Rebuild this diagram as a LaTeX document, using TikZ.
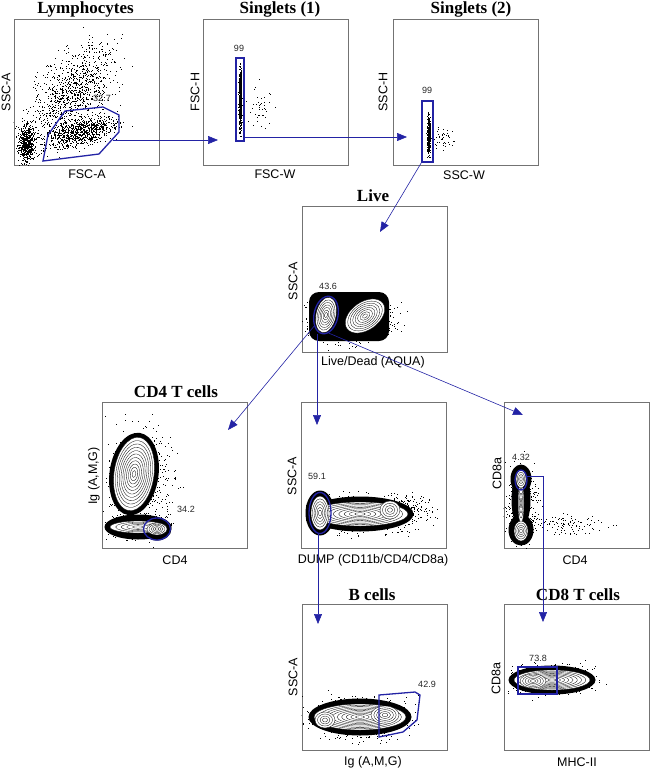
\documentclass[tikz,border=0pt]{standalone}
\usepackage{fontspec}
\setmainfont{Liberation Serif}
\newfontfamily\arialfont{Liberation Sans}
\usetikzlibrary{arrows.meta,shapes.geometric}

\definecolor{gateblue}{RGB}{35,35,165}
\definecolor{framegray}{RGB}{115,115,115}

\tikzset{
  plotframe/.style={draw=framegray, line width=0.8pt, minimum width=145pt, minimum height=146pt, inner sep=0pt},
  gateline/.style={draw=gateblue, line width=1.3pt},
  gatebox/.style={gateline, inner sep=0pt},
  gateoval/.style={gateline, ellipse, inner sep=0pt},
  gatearrow/.style={draw=gateblue, line width=0.6pt, -{Triangle[length=10pt,width=8pt]}},
  plottitle/.style={font=\fontsize{17}{20}\selectfont\bfseries, anchor=base},
  axislabel/.style={font=\arialfont\fontsize{12.5}{14}\selectfont},
  ylabel/.style={axislabel, rotate=90},
  gatepct/.style={font=\arialfont\fontsize{9}{10}\selectfont, text=black!85},
  contourline/.style={line width=0.3pt}
}

% cloud of events: centre, spread, tilt, count
\newcommand\scatterblob[6]{%
  \foreach \k in {1,...,#6}{%
    \pgfmathsetmacro\du{(rand+rand+rand)/3*#3}%
    \pgfmathsetmacro\dv{(rand+rand+rand)/3*#4}%
    \fill ({#1+\du*cos(#5)-\dv*sin(#5)},{#2-\du*sin(#5)-\dv*cos(#5)}) rectangle ++(0.8,0.8);
  }}

% dense rim of a population
\newcommand\densityedge[5]{%
  \fill[rotate around={#5:(#1,#2)}] (#1,#2) ellipse[x radius=#3*1pt+3.5pt, y radius=#4*1pt+3.5pt];}

% nested density levels
\newcommand\densitycore[6]{%
  \begin{scope}[rotate around={#5:(#1,#2)}]
    \filldraw[fill=white, contourline] (#1,#2) ellipse[x radius=#3*1pt, y radius=#4*1pt];
    \foreach \j in {1,...,#6}{%
      \draw[contourline] (#1,#2) ellipse[x radius={#3*\j/(#6+1)*1pt}, y radius={#4*\j/(#6+1)*1pt}];}
  \end{scope}}

\begin{document}
\begin{tikzpicture}[x=1pt, y=-1pt]
  \useasboundingbox (0,0) rectangle (650,768);
  \pgfmathsetseed{4711}

  \node[plotframe] (lymph) at (86.5,92) {};
  \node[plotframe] (sing1) at (275.5,92) {};
  \node[plotframe] (sing2) at (465.5,92) {};
  \node[plotframe] (live) at (374.5,279) {};
  \node[plotframe] (cd4t) at (175,475.5) {};
  \node[plotframe] (dump) at (373.5,475.5) {};
  \node[plotframe] (cd8a) at (576.5,475.5) {};
  \node[plotframe] (bcell) at (374.5,677) {};
  \node[plotframe] (cd8t) at (576.5,677) {};

  \begin{scope}
    \clip (lymph.south west) rectangle (lymph.north east);
    \scatterblob{72}{92}{85}{45}{55}{1000}
    \scatterblob{80}{132}{55}{18}{15}{800}
    \scatterblob{26}{144}{12}{28}{0}{550}
  \end{scope}
  \begin{scope}
    \clip (sing1.south west) rectangle (sing1.north east);
    \scatterblob{240}{100}{2}{44}{0}{600}
    \scatterblob{258}{105}{22}{32}{0}{45}
  \end{scope}
  \begin{scope}
    \clip (sing2.south west) rectangle (sing2.north east);
    \scatterblob{428.5}{135}{2.5}{26}{0}{450}
    \scatterblob{442}{138}{18}{15}{0}{45}
  \end{scope}
  \begin{scope}
    \clip (live.south west) rectangle (live.north east);
    \scatterblob{333}{320}{34}{28}{0}{350}
    \scatterblob{362}{320}{50}{27}{10}{500}
    \scatterblob{350}{325}{65}{30}{0}{110}
    \fill[rounded corners=10pt] (309,292) rectangle (389,341);
    \densitycore{365}{316}{22}{14}{35}{7}
    \densitycore{326}{315}{10}{18}{-12}{6}
  \end{scope}
  \begin{scope}
    \clip (cd4t.south west) rectangle (cd4t.north east);
    \scatterblob{140}{480}{48}{75}{0}{550}
    \scatterblob{140}{527}{45}{16}{0}{250}
    \densityedge{134}{474}{21}{38}{-8}
    \densityedge{138}{527}{30}{9}{0}
    \densityedge{157}{529}{11}{8}{0}
    \densitycore{134}{474}{20}{37}{-8}{10}
    \densitycore{138}{527}{28}{6}{0}{4}
    \densitycore{157}{529}{10}{6}{0}{4}
  \end{scope}
  \begin{scope}
    \clip (dump.south west) rectangle (dump.north east);
    \scatterblob{362}{515}{75}{28}{0}{550}
    \scatterblob{412}{508}{38}{20}{0}{130}
    \densityedge{360}{514}{50}{14}{0}
    \densityedge{320}{513}{11}{19}{0}
    \densitycore{360}{514}{48}{12}{0}{8}
    \densitycore{320}{513}{9}{17}{0}{5}
    \densitycore{390}{510}{10}{9}{0}{3}
  \end{scope}
  \begin{scope}
    \clip (cd8a.south west) rectangle (cd8a.north east);
    \scatterblob{521}{505}{22}{58}{0}{450}
    \scatterblob{562}{525}{65}{16}{0}{120}
    \densityedge{521}{500}{6}{24}{0}
    \densityedge{521}{530}{9}{12}{0}
    \densityedge{521}{479}{7}{11}{0}
    \densitycore{521}{503}{3}{20}{0}{3}
    \densitycore{521}{531}{7}{10}{0}{4}
    \densitycore{521}{479}{5}{9}{0}{3}
  \end{scope}
  \begin{scope}
    \clip (bcell.south west) rectangle (bcell.north east);
    \scatterblob{362}{717}{70}{30}{0}{600}
    \densityedge{360}{717}{48}{15}{0}
    \densitycore{360}{717}{46}{13}{0}{9}
    \densitycore{385}{715}{14}{9}{0}{4}
    \densitycore{325}{720}{10}{8}{0}{3}
  \end{scope}
  \begin{scope}
    \clip (cd8t.south west) rectangle (cd8t.north east);
    \scatterblob{550}{680}{60}{22}{0}{480}
    \densityedge{552}{680}{40}{11}{0}
    \densitycore{552}{680}{38}{10}{0}{8}
    \densitycore{533}{681}{13}{7}{0}{4}
  \end{scope}

  \node[plottitle] (tLymph) at (85.5,14) {Lymphocytes};
  \node[plottitle] (tSing1) at (280,14) {Singlets (1)};
  \node[plottitle] (tSing2) at (471,14) {Singlets (2)};
  \node[plottitle] (tLive) at (373,201) {Live};
  \node[plottitle] (tCD4) at (176,397) {CD4 T cells};
  \node[plottitle] (tB) at (372,600) {B cells};
  \node[plottitle] (tCD8) at (578,600) {CD8 T cells};

  \node[axislabel] (xLymph) at (87,174) {FSC-A};
  \node[ylabel] (yLymph) at (6,92) {SSC-A};
  \node[axislabel] (xSing1) at (275,174) {FSC-W};
  \node[ylabel] (ySing1) at (195,92) {FSC-H};
  \node[axislabel] (xSing2) at (464,175) {SSC-W};
  \node[ylabel] (ySing2) at (383,92) {SSC-H};
  \node[axislabel] (xLive) at (373,362) {Live/Dead (AQUA)};
  \node[ylabel] (yLive) at (293,281) {SSC-A};
  \node[axislabel] (xCD4) at (175,560) {CD4};
  \node[ylabel] (yCD4) at (94,476) {Ig (A,M,G)};
  \node[axislabel] (xDump) at (373,560) {DUMP (CD11b/CD4/CD8a)};
  \node[ylabel] (yDump) at (292,476) {SSC-A};
  \node[axislabel] (xCD8a) at (575,560) {CD4};
  \node[ylabel] (yCD8a) at (497,474) {CD8a};
  \node[axislabel] (xB) at (373,762) {Ig (A,M,G)};
  \node[ylabel] (yB) at (293,677) {SSC-A};
  \node[axislabel] (xCD8) at (577,762) {MHC-II};
  \node[ylabel] (yCD8) at (496,679) {CD8a};

  \draw[gateline] (43,161) -- (48,135) -- (65,111) -- (103,107) -- (119,115) -- (119,132) -- (99,154) -- cycle;
  \coordinate (lymG) at (113,140);
  \node[gatebox, minimum width=8pt, minimum height=83pt] (s1gate) at (240,99.5) {};
  \node[gatebox, minimum width=11pt, minimum height=61pt] (s2gate) at (427.5,131.5) {};
  \node[gateoval, minimum width=24pt, minimum height=38pt, rotate=-12] (livegate) at (326,315) {};
  \node[gateoval, minimum width=27pt, minimum height=22pt] (cd4gate) at (157,529) {};
  \node[gateoval, minimum width=22pt, minimum height=41pt] (dumpgate) at (320,513) {};
  \node[gateoval, minimum width=12pt, minimum height=20pt] (cd8gate) at (521,480) {};
  \draw[gateline] (379,695) -- (415,692) -- (420,695) -- (417,720) -- (403,732) -- (379,737) -- cycle;
  \node[gatebox, minimum width=39pt, minimum height=27pt] (cd8tgate) at (537.5,680.5) {};

  \node[gatepct] (pLymph) at (102,98) {32.7};
  \node[gatepct] (pSing1) at (239,48) {99};
  \node[gatepct] (pSing2) at (427,90) {99};
  \node[gatepct] (pLive) at (328,286) {43.6};
  \node[gatepct] (pCD4) at (186,509) {34.2};
  \node[gatepct] (pDump) at (317,476) {59.1};
  \node[gatepct] (pCD8a) at (521,457) {4.32};
  \node[gatepct] (pB) at (427,684) {42.9};
  \node[gatepct] (pCD8) at (538,658) {73.8};

  \coordinate (sing1In) at (218,140);
  \coordinate (sing2In) at (407,137);
  \coordinate (liveIn) at (380,232);
  \coordinate (cd4In) at (228,430);
  \coordinate (dumpIn) at (317,425);
  \coordinate (cd8aIn) at (523,415);
  \coordinate (bIn) at (318,624);
  \coordinate (cd8tIn) at (543,622);

  \draw[gatearrow] (lymG) -- (sing1In);
  \draw[gatearrow] (s1gate.east |- sing2In) -- (sing2In);
  \draw[gatearrow] (s2gate.south west) -- (liveIn);
  \draw[gatearrow] (livegate.235) -- (cd4In);
  \draw[gatearrow] (dumpIn |- livegate.south) -- (dumpIn);
  \draw[gatearrow] (livegate.290) -- (cd8aIn);
  \draw[gatearrow] (bIn |- dumpgate.south) -- (bIn);
  \draw[gatearrow] (cd8gate.30) -| (cd8tIn);
\end{tikzpicture}
\end{document}
